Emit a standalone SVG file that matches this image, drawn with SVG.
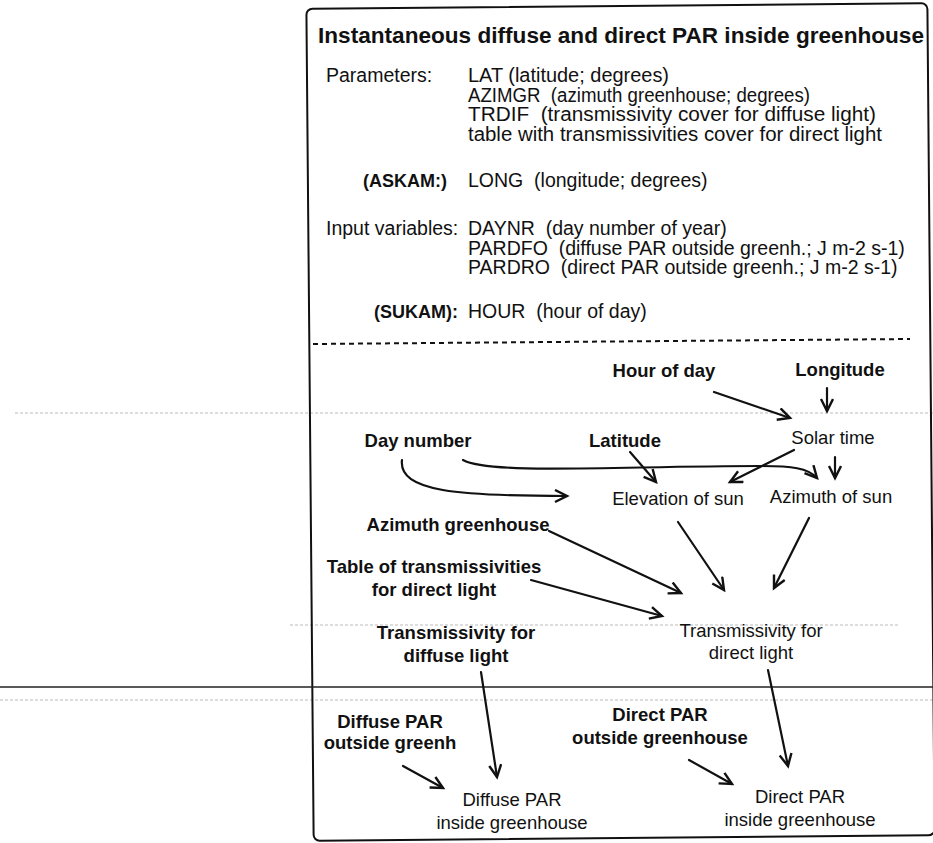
<svg xmlns="http://www.w3.org/2000/svg" width="933" height="843" viewBox="0 0 933 843">
<defs>
<style>
text{font-family:"Liberation Sans",Arial,Helvetica,sans-serif;fill:#111}
.t{font-size:22.5px;font-weight:bold}
.p{font-size:19.5px}
.pb{font-size:18px;font-weight:bold}
.b{font-size:18.5px;font-weight:bold;text-anchor:middle}
.r{font-size:18.5px;text-anchor:middle}
.c{fill:none;stroke:#111;stroke-width:2.2;stroke-linecap:round}
.a{marker-end:url(#ah)}
.scan{stroke:#bbb;stroke-width:1;stroke-dasharray:3 2;fill:none}
</style>
<marker id="ah" markerWidth="18" markerHeight="18" refX="13" refY="7" orient="auto" markerUnits="userSpaceOnUse">
<path d="M1,1 L13,7 L1,13" fill="none" stroke="#111" stroke-width="2.4" stroke-linejoin="miter"/>
</marker>
</defs>
<rect width="933" height="843" fill="#fff"/>
<g id="scan-artifacts">
<line class="scan" x1="15" y1="413" x2="933" y2="413"/>
<line class="scan" x1="290" y1="625" x2="900" y2="625"/>
<line class="scan" x1="0" y1="700" x2="933" y2="700"/>
</g>
<g id="frame">
<rect x="310" y="6" width="621" height="832" rx="6" fill="none" stroke="#111" stroke-width="2" transform="rotate(-0.5 620 420)"/>
<line x1="313" y1="344" x2="910" y2="339" stroke="#111" stroke-width="2" stroke-dasharray="5 4"/>
<line x1="0" y1="687" x2="933" y2="687" stroke="#222" stroke-width="1.5"/>
</g>
<g id="header">
<text class="t" x="318" y="43" textLength="606" lengthAdjust="spacingAndGlyphs">Instantaneous diffuse and direct PAR inside greenhouse</text>
<text class="p" x="326" y="82">Parameters:</text>
<text class="p" x="468" y="82" textLength="201" lengthAdjust="spacingAndGlyphs">LAT (latitude; degrees)</text>
<text class="p" x="468" y="101.5" textLength="342" lengthAdjust="spacingAndGlyphs">AZIMGR&#160; (azimuth greenhouse; degrees)</text>
<text class="p" x="468" y="121" textLength="408" lengthAdjust="spacingAndGlyphs">TRDIF&#160; (transmissivity cover for diffuse light)</text>
<text class="p" x="468" y="140.5" textLength="414" lengthAdjust="spacingAndGlyphs">table with transmissivities cover for direct light</text>
<text class="pb" x="447" y="187" text-anchor="end">(ASKAM:)</text>
<text class="p" x="468" y="187">LONG&#160; (longitude; degrees)</text>
<text class="p" x="326" y="235">Input variables:</text>
<text class="p" x="468" y="235">DAYNR&#160; (day number of year)</text>
<text class="p" x="468" y="254.5">PARDFO&#160; (diffuse PAR outside greenh.; J m-2 s-1)</text>
<text class="p" x="468" y="274">PARDRO&#160; (direct PAR outside greenh.; J m-2 s-1)</text>
<text class="pb" x="458" y="318" text-anchor="end">(SUKAM):</text>
<text class="p" x="468" y="318">HOUR&#160; (hour of day)</text>
</g>
<g id="n-hour"><text class="b" x="664" y="377">Hour of day</text></g>
<g id="n-longitude"><text class="b" x="840" y="376">Longitude</text></g>
<g id="n-daynumber"><text class="b" x="418" y="447">Day number</text></g>
<g id="n-latitude"><text class="b" x="625" y="447">Latitude</text></g>
<g id="n-solartime"><text class="r" x="833" y="444">Solar time</text></g>
<g id="n-elevation"><text class="r" x="678" y="505">Elevation of sun</text></g>
<g id="n-azimuthsun"><text class="r" x="831" y="503">Azimuth of sun</text></g>
<g id="n-azimuthgh"><text class="b" x="458" y="531">Azimuth greenhouse</text></g>
<g id="n-table"><text class="b" x="434" y="573">Table of transmissivities</text><text class="b" x="434" y="596">for direct light</text></g>
<g id="n-trdif"><text class="b" x="456" y="639">Transmissivity for</text><text class="b" x="456" y="662">diffuse light</text></g>
<g id="n-trdir"><text class="r" x="751" y="637">Transmissivity for</text><text class="r" x="751" y="659">direct light</text></g>
<g id="n-difout"><text class="b" x="390" y="728">Diffuse PAR</text><text class="b" x="390" y="749">outside greenh</text></g>
<g id="n-dirout"><text class="b" x="660" y="721">Direct PAR</text><text class="b" x="660" y="744">outside greenhouse</text></g>
<g id="n-difin"><text class="r" x="512" y="806">Diffuse PAR</text><text class="r" x="512" y="829">inside greenhouse</text></g>
<g id="n-dirin"><text class="r" x="800" y="803">Direct PAR</text><text class="r" x="800" y="826">inside greenhouse</text></g>
<g id="connectors">
<path class="c a" d="M714,392 L790,418"/>
<path class="c a" d="M827,388 L827,411"/>
<path class="c a" d="M402,460 C398,492 460,496 567,496"/>
<path class="c a" d="M463,460 C490,475 620,466 760,466 C792,466 808,468 817,478"/>
<path class="c a" d="M630,452 L656,482"/>
<path class="c a" d="M794,450 L730,482"/>
<path class="c a" d="M835,457 L835,478"/>
<path class="c a" d="M549,531 L681,593"/>
<path class="c a" d="M531,580 L662,616"/>
<path class="c a" d="M678,522 L724,590"/>
<path class="c a" d="M809,518 L774,588"/>
<path class="c a" d="M481,672 L497,777"/>
<path class="c a" d="M768,670 L788,766"/>
<path class="c a" d="M403,766 L443,788"/>
<path class="c a" d="M689,760 L732,784"/>
</g>
</svg>
